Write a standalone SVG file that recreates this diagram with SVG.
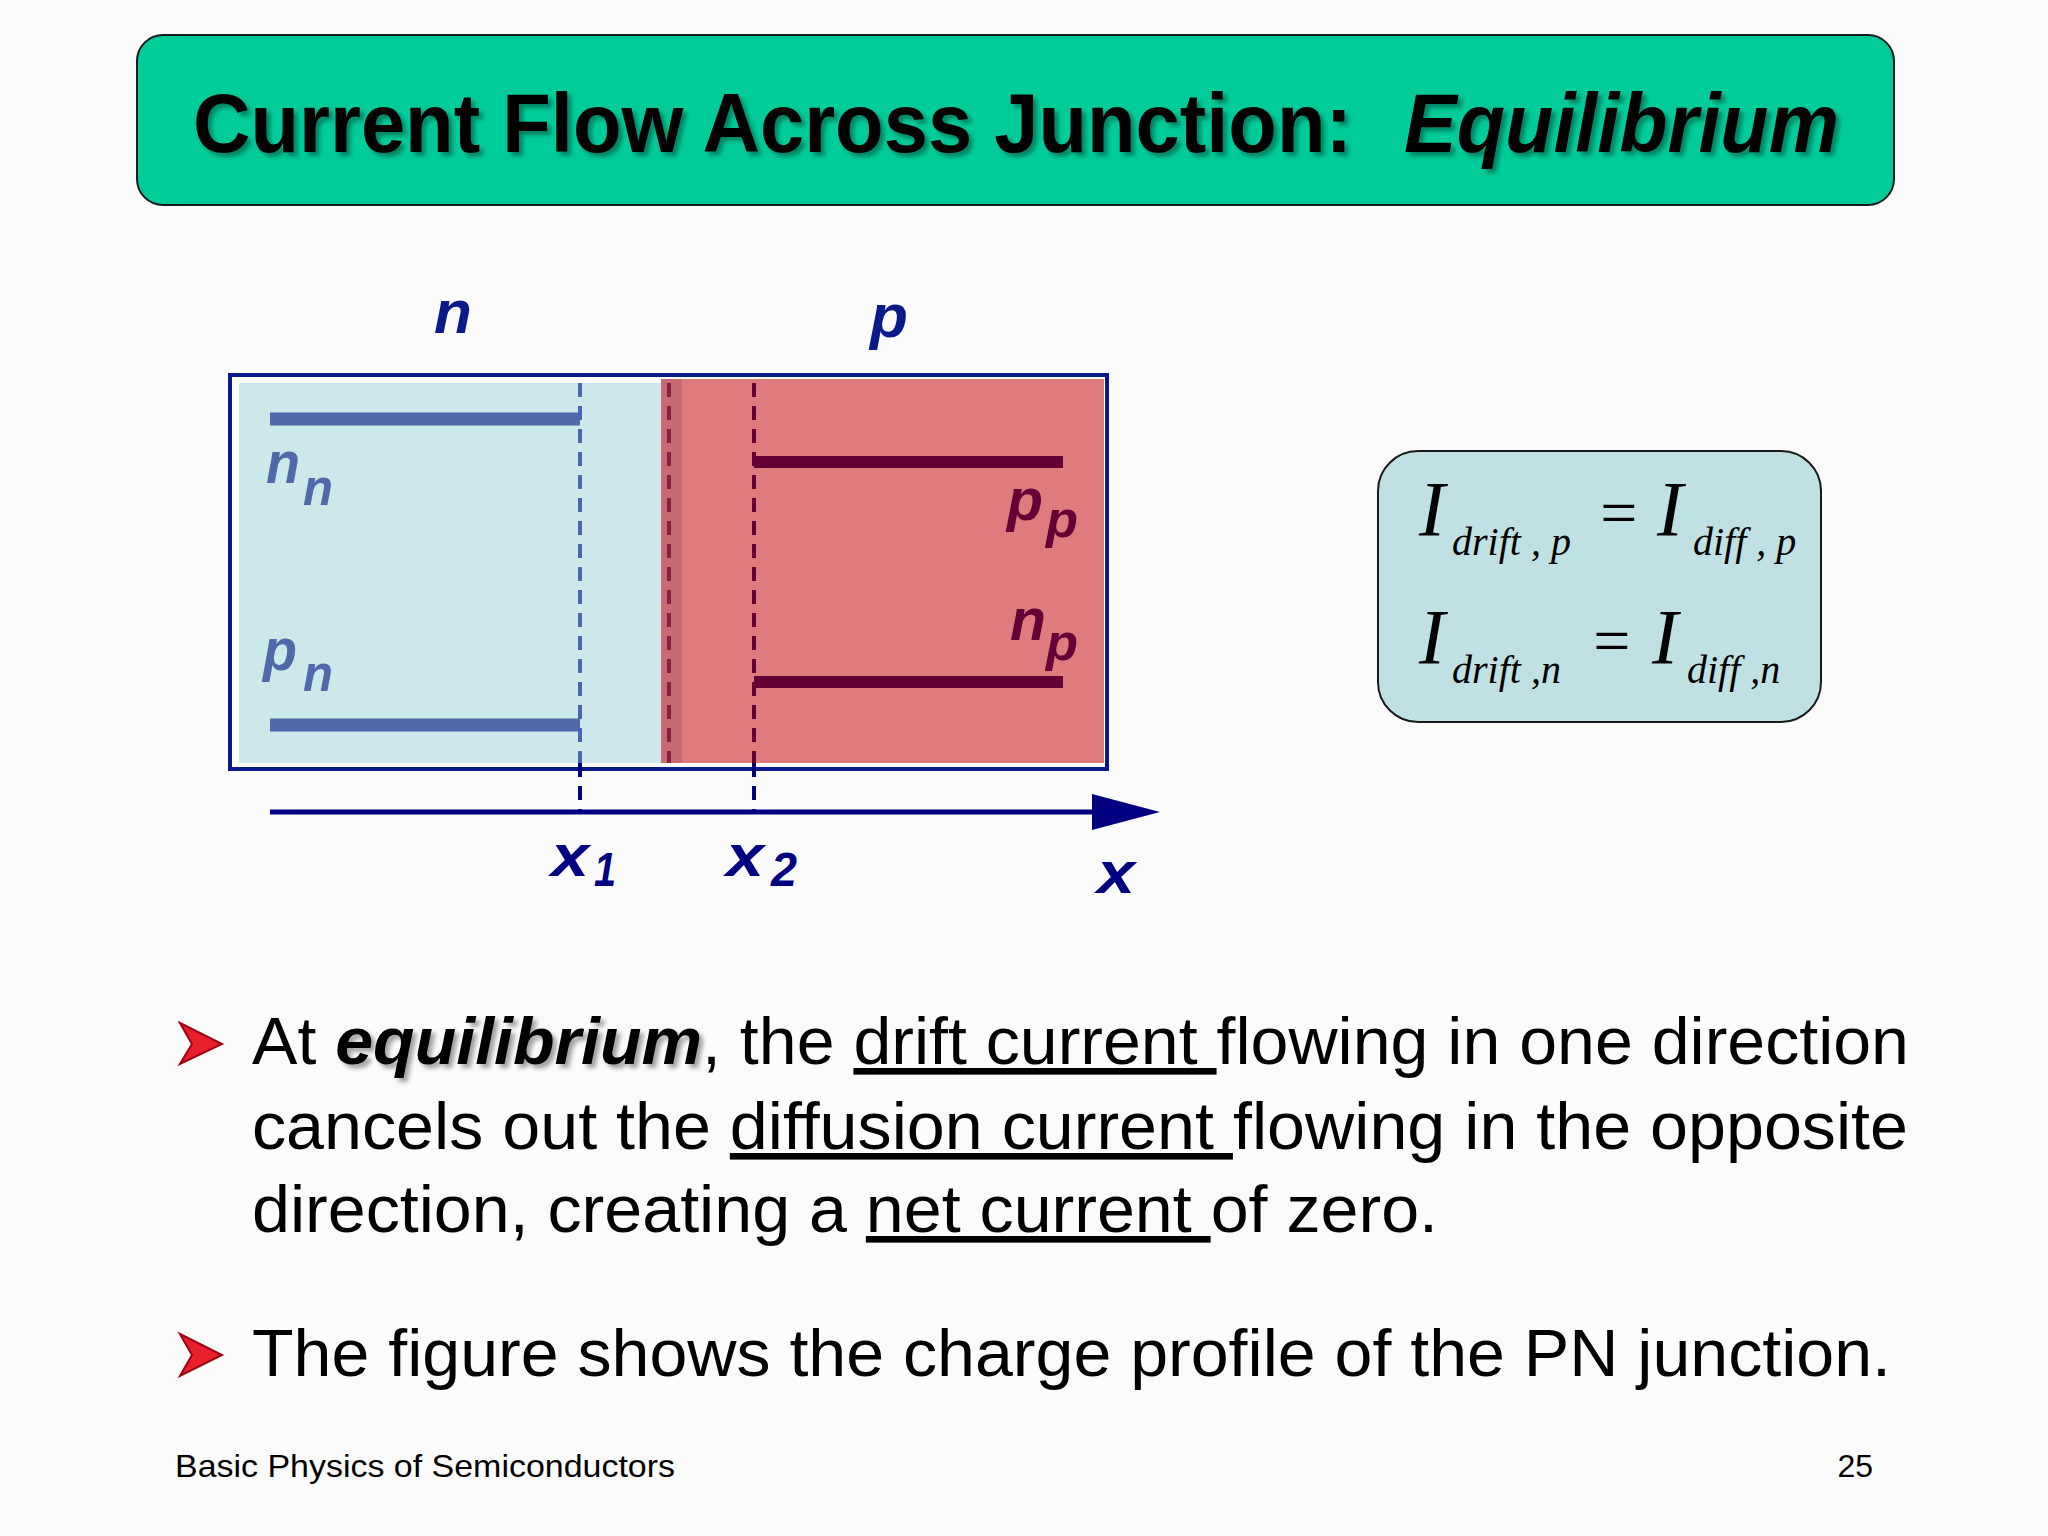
<svg xmlns="http://www.w3.org/2000/svg" width="2048" height="1536" viewBox="0 0 2048 1536">
<defs>
<style>
.lab{font-family:"Liberation Sans",Arial,sans-serif;font-style:italic;font-weight:bold}
.eq{font-family:"Liberation Serif","Times New Roman",serif;font-style:italic;fill:#000}
.body{font-family:"Liberation Sans",Arial,sans-serif;font-size:66px;fill:#000}
.u{text-decoration:underline}
</style>
<filter id="sh" x="-5%" y="-20%" width="110%" height="140%"><feDropShadow dx="4" dy="4" stdDeviation="2" flood-color="#000" flood-opacity="0.35"/></filter>
</defs>
<rect width="2048" height="1536" fill="#fbfbfb"/>
<g id="title">
<rect x="137" y="35" width="1757" height="170" rx="26" fill="#00cc99" stroke="#1a1a1a" stroke-width="2"/>
<text x="193" y="152" font-family="Liberation Sans,Arial,sans-serif" font-weight="bold" font-size="84" fill="#000" filter="url(#sh)"><tspan textLength="1159" lengthAdjust="spacingAndGlyphs">Current Flow Across Junction:</tspan><tspan x="1404" font-style="italic" textLength="435" lengthAdjust="spacingAndGlyphs">Equilibrium</tspan></text>
</g>
<g id="junction">
<rect x="230" y="375" width="877" height="394" fill="#fff" stroke="#0a1a8a" stroke-width="4"/>
<rect x="239" y="383" width="424" height="380" fill="#cde8ea"/>
<rect x="661" y="379" width="443" height="384" fill="#e07b7d"/>
<rect x="661" y="379" width="21" height="384" fill="#c86a72"/>
<line x1="270" y1="419" x2="580" y2="419" stroke="#5169aa" stroke-width="13"/>
<line x1="270" y1="725" x2="580" y2="725" stroke="#5169aa" stroke-width="13"/>
<line x1="754" y1="462" x2="1063" y2="462" stroke="#650035" stroke-width="12"/>
<line x1="754" y1="682" x2="1063" y2="682" stroke="#650035" stroke-width="12"/>
<line x1="580" y1="383" x2="580" y2="763" stroke="#4a66b0" stroke-width="4" stroke-dasharray="14,9"/>
<line x1="580" y1="763" x2="580" y2="810" stroke="#000080" stroke-width="4" stroke-dasharray="14,9"/>
<line x1="669" y1="383" x2="669" y2="763" stroke="#8a2040" stroke-width="4" stroke-dasharray="14,9"/>
<line x1="754" y1="383" x2="754" y2="763" stroke="#650035" stroke-width="4" stroke-dasharray="14,9"/>
<line x1="754" y1="763" x2="754" y2="810" stroke="#000080" stroke-width="4" stroke-dasharray="14,9"/>
<line x1="270" y1="812" x2="1100" y2="812" stroke="#000080" stroke-width="5"/>
<path d="M1092,794L1160,812L1092,830z" fill="#000080"/>
<text class="lab" x="434" y="333" font-size="62" fill="#0a1a8a">n</text>
<text class="lab" x="870" y="337" font-size="62" fill="#0a1a8a">p</text>
<text class="lab" x="266" y="483" font-size="60" fill="#5169aa" textLength="34" lengthAdjust="spacingAndGlyphs">n</text>
<text class="lab" x="303" y="505" font-size="52" fill="#5169aa" textLength="30" lengthAdjust="spacingAndGlyphs">n</text>
<text class="lab" x="263" y="670" font-size="60" fill="#5169aa" textLength="34" lengthAdjust="spacingAndGlyphs">p</text>
<text class="lab" x="303" y="691" font-size="52" fill="#5169aa" textLength="30" lengthAdjust="spacingAndGlyphs">n</text>
<text class="lab" x="1007" y="520" font-size="60" fill="#650035" textLength="36" lengthAdjust="spacingAndGlyphs">p</text>
<text class="lab" x="1046" y="537" font-size="52" fill="#650035" textLength="32" lengthAdjust="spacingAndGlyphs">p</text>
<text class="lab" x="1010" y="640" font-size="60" fill="#650035" textLength="36" lengthAdjust="spacingAndGlyphs">n</text>
<text class="lab" x="1046" y="660" font-size="52" fill="#650035" textLength="32" lengthAdjust="spacingAndGlyphs">p</text>
<text class="lab" x="551" y="876" font-size="60" fill="#000080" textLength="38" lengthAdjust="spacingAndGlyphs">x</text>
<text class="lab" x="594" y="886" font-size="48" fill="#000080" font-style="normal" textLength="22" lengthAdjust="spacingAndGlyphs">1</text>
<text class="lab" x="726" y="876" font-size="60" fill="#000080" textLength="38" lengthAdjust="spacingAndGlyphs">x</text>
<text class="lab" x="771" y="886" font-size="48" fill="#000080" font-style="normal" textLength="26" lengthAdjust="spacingAndGlyphs">2</text>
<text class="lab" x="1097" y="893" font-size="60" fill="#000080" textLength="38" lengthAdjust="spacingAndGlyphs">x</text>
</g>
<g id="equations">
<rect x="1378" y="451" width="443" height="271" rx="40" fill="#bfe1e4" stroke="#1a1a1a" stroke-width="2"/>
<text class="eq" x="1419" y="535" font-size="78">I</text>
<text class="eq" x="1452" y="555" font-size="40">drift , p</text>
<text class="eq" x="1596" y="535" font-size="66" font-style="normal">=</text>
<text class="eq" x="1657" y="535" font-size="78">I</text>
<text class="eq" x="1693" y="555" font-size="40">diff , p</text>
<text class="eq" x="1419" y="663" font-size="78">I</text>
<text class="eq" x="1452" y="683" font-size="40">drift ,n</text>
<text class="eq" x="1589" y="663" font-size="66" font-style="normal">=</text>
<text class="eq" x="1652" y="663" font-size="78">I</text>
<text class="eq" x="1687" y="683" font-size="40">diff ,n</text>
</g>
<g id="bullets">
<path d="M180,1023L222,1044L180,1064L192,1044z" fill="#e8202a" stroke="#a00010" stroke-width="2"/>
<text class="body" x="252" y="1064" textLength="1657" lengthAdjust="spacingAndGlyphs">At <tspan font-weight="bold" font-style="italic" filter="url(#sh)">equilibrium</tspan>, the <tspan class="u">drift current </tspan>flowing in one direction</text>
<text class="body" x="252" y="1149" textLength="1656" lengthAdjust="spacingAndGlyphs">cancels out the <tspan class="u">diffusion current </tspan>flowing in the opposite</text>
<text class="body" x="252" y="1232" textLength="1186" lengthAdjust="spacingAndGlyphs">direction, creating a <tspan class="u">net current </tspan>of zero.</text>
<path d="M180,1334L222,1355L180,1376L192,1355z" fill="#e8202a" stroke="#a00010" stroke-width="2"/>
<text class="body" x="252" y="1376" textLength="1639" lengthAdjust="spacingAndGlyphs">The figure shows the charge profile of the PN junction.</text>
</g>
<g id="footer">
<text x="175" y="1477" font-family="Liberation Sans,Arial,sans-serif" font-size="32" fill="#000" textLength="500" lengthAdjust="spacingAndGlyphs">Basic Physics of Semiconductors</text>
<text x="1873" y="1477" text-anchor="end" font-family="Liberation Sans,Arial,sans-serif" font-size="32" fill="#000">25</text>
</g>
</svg>
